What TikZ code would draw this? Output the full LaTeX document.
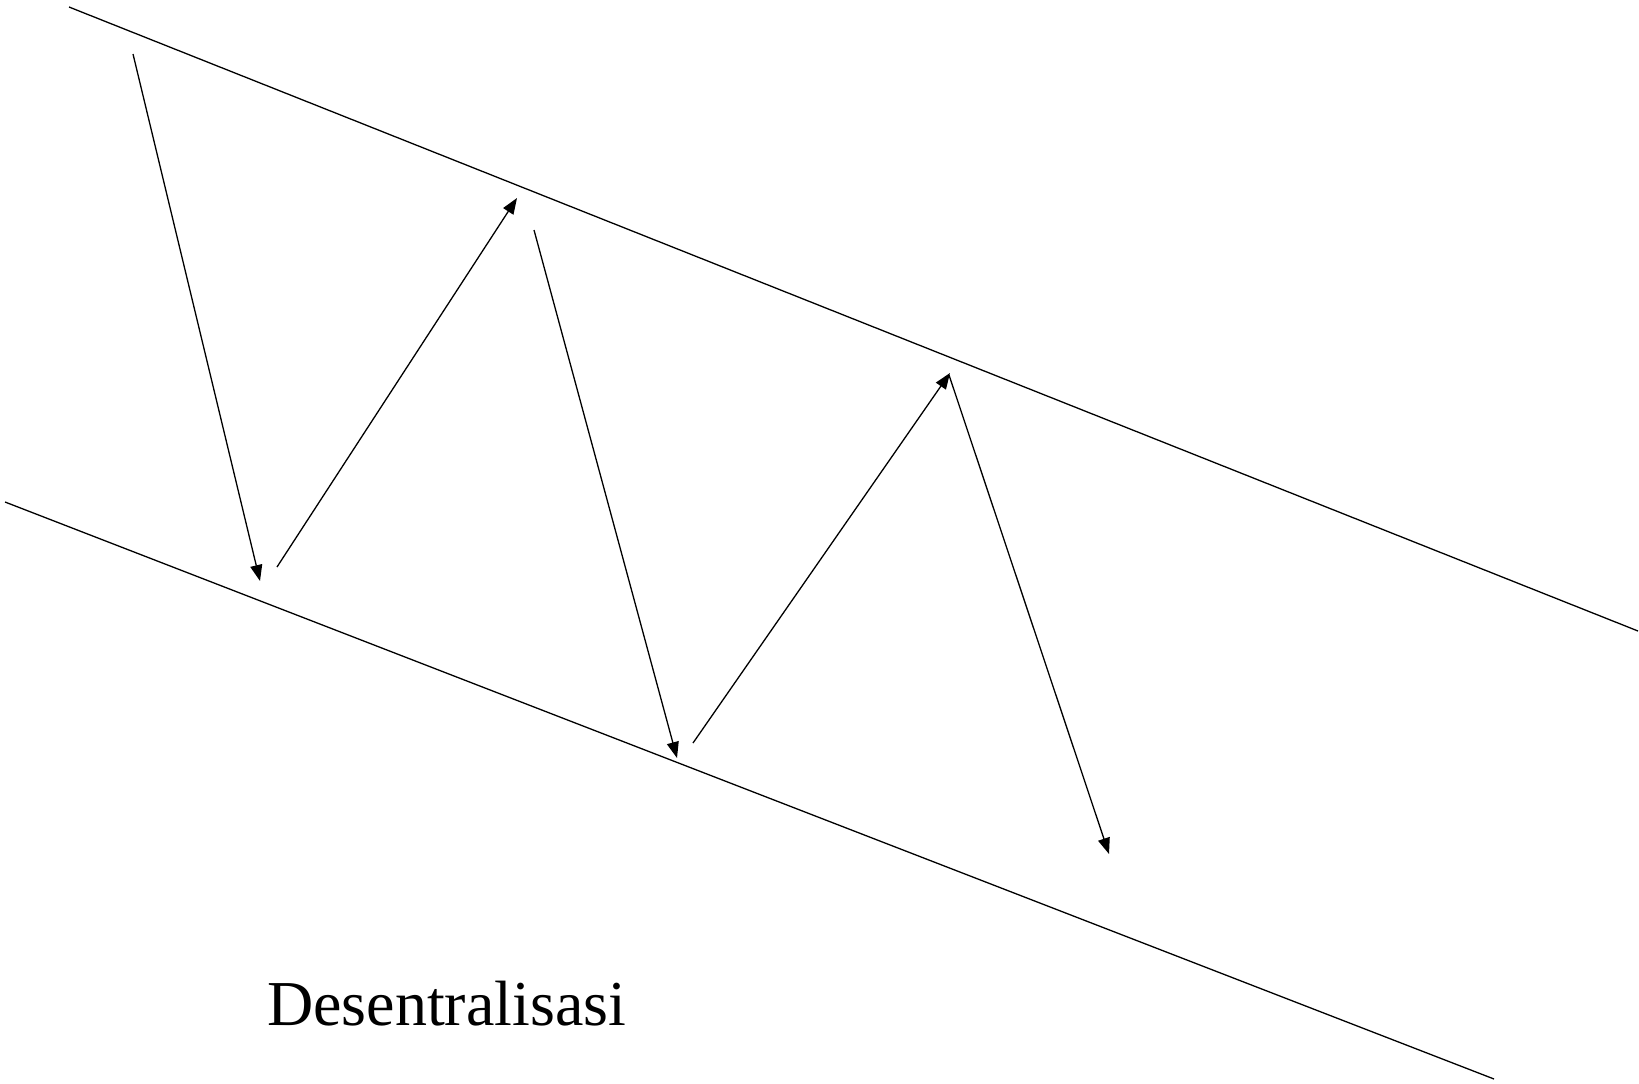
\documentclass[tikz,border=0pt]{standalone}
\usepackage{fontspec}
\setmainfont{Liberation Serif}
\usetikzlibrary{arrows.meta}
\begin{document}
\begin{tikzpicture}[x=1pt,y=-1pt,
  bound/.style={line width=1.3pt},
  move/.style={line width=1.3pt,-{Triangle[length=16pt,width=12pt]}}]
\useasboundingbox (0,0) rectangle (1639,1084);
\coordinate (u1) at (69,7);
\coordinate (u2) at (1638,631);
\coordinate (l1) at (5,502);
\coordinate (l2) at (1494,1079);
\coordinate (a1s) at (133,54);
\coordinate (a1e) at (260,581);
\coordinate (a2s) at (277,567);
\coordinate (a2e) at (517,198);
\coordinate (a3s) at (534,230);
\coordinate (a3e) at (677,758);
\coordinate (a4s) at (693,743);
\coordinate (a4e) at (950,373);
\coordinate (a5s) at (949,375);
\coordinate (a5e) at (1109,854);
\draw[bound] (u1) -- (u2);
\draw[bound] (l1) -- (l2);
\draw[move] (a1s) -- (a1e);
\draw[move] (a2s) -- (a2e);
\draw[move] (a3s) -- (a3e);
\draw[move] (a4s) -- (a4e);
\draw[move] (a5s) -- (a5e);
\node[anchor=base west,inner sep=0pt,font=\fontsize{64}{70}\selectfont] (lbl) at (267,1025) {Desentralisasi};
\end{tikzpicture}
\end{document}
